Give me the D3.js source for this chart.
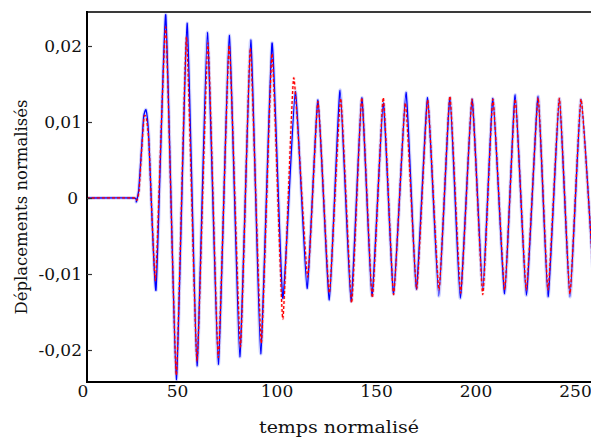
<!DOCTYPE html>
<html>
<head>
<meta charset="utf-8">
<script src="https://cdn.jsdelivr.net/npm/d3@7"></script>
<style>
  html, body { margin: 0; padding: 0; background: #fff; }
  svg { display: block; }
  text { font-family: "DejaVu Serif", "Liberation Serif", serif; fill: #111; }
</style>
</head>
<body>
<svg id="chart" width="591" height="440"></svg>
<script>
// ---- data ----
const xTickValues = [0, 50, 100, 150, 200, 250];
const xTickLabels = ["0", "50", "100", "150", "200", "250"];
const yTickValues = [0.02, 0.01, 0, -0.01, -0.02];
const yTickLabels = ["0,02", "0,01", "0", "-0,01", "-0,02"];
const xTitle = "temps normalisé";
const yTitle = "Déplacements normalisés";

// blue (solid) series: time, displacement
const tBlue = [4.5, 28.1, 29.3, 30.5, 31.8, 33.0, 34.2, 35.5, 39.2, 44.1, 49.4, 54.8, 59.8, 65.0, 70.5, 76.0, 81.3, 86.8, 91.8, 97.5,
  102.9, 109.2, 115.1, 120.6, 126.3, 131.7, 137.2, 142.6, 147.7, 153.4, 158.6, 164.8, 170.0, 175.7, 181.3, 186.9, 192.1,
  198.0, 203.4, 208.5, 214.4, 219.7, 225.3, 231.2, 236.2, 241.9, 247.2, 252.8, 259.5];
const vBlue = [0, 0, -0.0005, 0.001, 0.0059, 0.0107, 0.0116, 0.0083, -0.0121, 0.0241, -0.0239, 0.0230, -0.0221, 0.0218, -0.0219, 0.0214, -0.0209, 0.0208, -0.0205, 0.0204,
  -0.0132, 0.0140, -0.0119, 0.0129, -0.0134, 0.0142, -0.0136, 0.0132, -0.0129, 0.0125, -0.0126, 0.0139, -0.0120, 0.0132, -0.0129, 0.0132, -0.0132,
  0.0130, -0.0121, 0.0131, -0.0126, 0.0136, -0.0128, 0.0134, -0.0130, 0.0131, -0.0130, 0.0130, -0.0130];

// red (dashed) series
const tRed = [4.5, 28.1, 29.6, 30.7, 31.9, 33.2, 34.4, 35.7, 39.0, 44.1, 49.4, 54.5, 59.8, 65.3, 70.5, 76.0, 81.6, 86.6, 92.1, 97.5,
  102.9, 108.4, 115.4, 120.6, 126.3, 132.0, 137.5, 142.6, 147.9, 153.4, 158.6, 164.5, 170.2, 175.7, 181.4, 186.9, 192.3,
  198.0, 203.4, 208.5, 214.4, 219.7, 225.3, 231.2, 236.2, 241.9, 247.2, 252.8, 259.5];
const vRed = [0, 0, -0.0003, 0.001, 0.006, 0.0107, 0.0105, 0.007, -0.0108, 0.0225, -0.0233, 0.0212, -0.0215, 0.0204, -0.0210, 0.0201, -0.0196, 0.0197, -0.0191, 0.0190,
  -0.0159, 0.0158, -0.0104, 0.0127, -0.0125, 0.0131, -0.0138, 0.0132, -0.0131, 0.0132, -0.0127, 0.0125, -0.0120, 0.0129, -0.0121, 0.0134, -0.0125,
  0.0130, -0.0127, 0.0130, -0.0121, 0.0130, -0.0121, 0.0132, -0.0121, 0.0131, -0.0126, 0.0130, -0.0128];

// ---- layout ----
const svg = d3.select("#chart");
const plot = { left: 87, top: 12, right: 600, bottom: 382 };
const x = d3.scaleLinear().domain([0, 260]).range([78, 595.4]);
const y = d3.scaleLinear().domain([0, 0.01]).range([198, 122]);

svg.append("defs").append("clipPath").attr("id", "clip")
  .append("rect").attr("x", plot.left).attr("y", plot.top)
  .attr("width", plot.right - plot.left).attr("height", plot.bottom - plot.top);

const blue = tBlue.map((t, i) => [t, vBlue[i]]);
const red = tRed.map((t, i) => [t, vRed[i]]);
const line = d3.line().x(d => x(d[0])).y(d => y(d[1])).curve(d3.curveCardinal.tension(0.55));

const g = svg.append("g").attr("clip-path", "url(#clip)");
g.append("path").attr("d", line(blue)).attr("fill", "none")
  .attr("stroke", "#9aa2ff").attr("stroke-opacity", 0.45).attr("stroke-width", 3.5)
  .attr("stroke-linejoin", "round");
g.append("path").attr("d", line(red)).attr("fill", "none")
  .attr("stroke", "#ff8c8c").attr("stroke-opacity", 0.3).attr("stroke-width", 3)
  .attr("stroke-dasharray", "3,2");
g.append("path").attr("d", line(blue)).attr("fill", "none")
  .attr("stroke", "#0000ff").attr("stroke-width", 1.3).attr("stroke-linejoin", "round");
g.append("path").attr("d", line(red)).attr("fill", "none")
  .attr("stroke", "#ff0000").attr("stroke-width", 1.3).attr("stroke-dasharray", "3,2");

// frame
svg.append("line").attr("x1", plot.left).attr("x2", 591).attr("y1", plot.top).attr("y2", plot.top)
  .attr("stroke", "#3a3a3a").attr("stroke-width", 2);
svg.append("line").attr("x1", plot.left).attr("x2", 591).attr("y1", plot.bottom).attr("y2", plot.bottom)
  .attr("stroke", "#000").attr("stroke-width", 2);
svg.append("line").attr("x1", plot.left).attr("x2", plot.left).attr("y1", plot.top - 1).attr("y2", plot.bottom + 1)
  .attr("stroke", "#000").attr("stroke-width", 2);

// y axis ticks (inward) and labels
const yAxis = d3.axisRight(y).tickValues(yTickValues).tickSize(5).tickFormat("");
const ya = svg.append("g").attr("transform", `translate(${plot.left},0)`).call(yAxis);
ya.select(".domain").remove();
ya.selectAll(".tick line").attr("stroke", "#333").attr("stroke-width", 1.2);

svg.append("g").selectAll("text").data(yTickValues).join("text")
  .attr("x", (d, i) => yTickLabels[i] === "0" ? 78 : 82)
  .attr("y", d => y(d)).attr("dy", "0.36em")
  .attr("text-anchor", "end").attr("font-size", 17)
  .text((d, i) => yTickLabels[i]);

// x tick labels
svg.append("g").selectAll("text").data(xTickValues).join("text")
  .attr("x", (d, i) => i === 0 ? 83 : x(d))
  .attr("y", 397).attr("text-anchor", "middle").attr("font-size", 17)
  .text((d, i) => xTickLabels[i]);

// titles
svg.append("text").attr("x", 339).attr("y", 433).attr("text-anchor", "middle")
  .attr("font-size", 17).attr("textLength", 160).attr("lengthAdjust", "spacingAndGlyphs")
  .text(xTitle);
svg.append("text").attr("transform", "translate(27,207) rotate(-90)").attr("text-anchor", "middle")
  .attr("font-size", 17).attr("textLength", 215).attr("lengthAdjust", "spacingAndGlyphs")
  .text(yTitle);
</script>
</body>
</html>
